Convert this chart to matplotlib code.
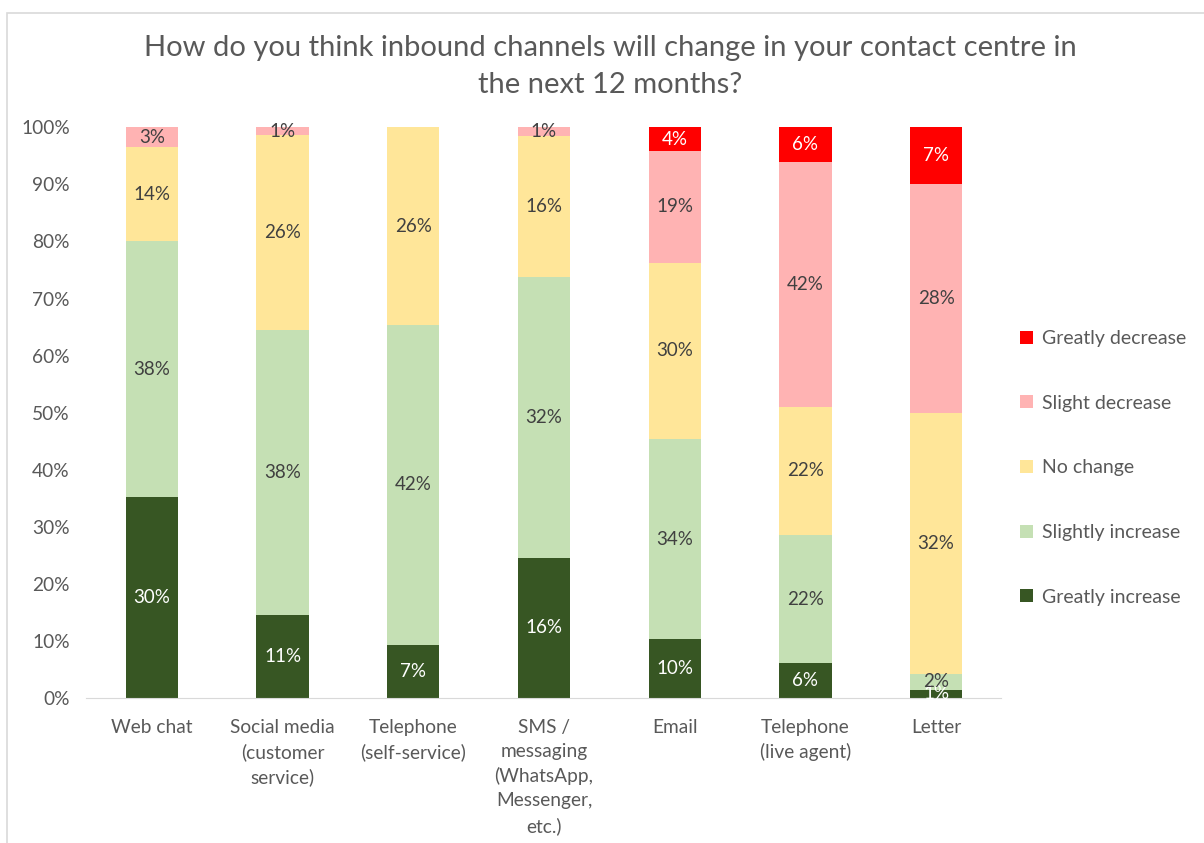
import numpy as np
import matplotlib.pyplot as plt
from matplotlib.patches import Rectangle

# Datos
canales = ['Web chat', 'Social media\n(customer\nservice)', 'Telephone\n(self-service)',
           'SMS /\nmessaging\n(WhatsApp,\nMessenger,\netc.)', 'Email',
           'Telephone\n(live agent)', 'Letter']
greatly_increase = [30, 11, 7, 16, 10, 6, 1]
slightly_increase = [38, 38, 42, 32, 34, 22, 2]
no_change = [14, 26, 26, 16, 30, 22, 32]
slight_decrease = [3, 1, 0, 1, 19, 42, 28]
greatly_decrease = [0, 0, 0, 0, 4, 6, 7]

series = ['Greatly increase', 'Slightly increase', 'No change', 'Slight decrease', 'Greatly decrease']
colores = ['#375623', '#C5E0B4', '#FFE699', '#FFB3B3', '#FF0000']
color_texto = ['white', '#404040', '#404040', '#404040', 'white']

plt.rcParams['font.family'] = ['Lato', 'DejaVu Sans']
gris = '#595959'

valores = np.array([greatly_increase, slightly_increase, no_change,
                    slight_decrease, greatly_decrease], dtype=float)
totales = valores.sum(axis=0)
porcentajes = valores / totales

fig = plt.figure(figsize=(12.04, 8.43), dpi=100)
ax = fig.add_axes([0.0718, 0.172, 0.760, 0.677])
fig.patches.append(Rectangle((7 / 1204, -0.1), 1.2, 1 - 13 / 843 + 0.1, transform=fig.transFigure,
                             fill=False, edgecolor='#D9D9D9', linewidth=1.2))

x = np.arange(len(canales))
base = np.zeros(len(canales))
barras = []
for i, nombre in enumerate(series):
    b = ax.bar(x, porcentajes[i], 0.4, bottom=base, color=colores[i], label=nombre)
    barras.append(b)
    for j in range(len(canales)):
        if valores[i, j] > 0:
            ax.text(x[j], base[j] + porcentajes[i, j] / 2, f'{valores[i, j]:.0f}%',
                    ha='center', va='center', fontsize=13.5, color=color_texto[i])
    base += porcentajes[i]

ax.set_xlim(-0.5, len(canales) - 0.5)
ax.set_ylim(0, 1)
ax.set_yticks(np.arange(0, 1.01, 0.1))
ax.set_yticklabels([f'{int(round(v * 100))}%' for v in np.arange(0, 1.01, 0.1)])
ax.set_xticks(x)
ax.set_xticklabels(canales, linespacing=1.5)
ax.tick_params(axis='both', length=0, labelsize=13.8, colors=gris)
ax.tick_params(axis='x', pad=15)
ax.tick_params(axis='y', pad=12)
for lado in ['top', 'right', 'left']:
    ax.spines[lado].set_visible(False)
ax.spines['bottom'].set_color('#D9D9D9')

fig.text(0.507, 0.959, 'How do you think inbound channels will change in your contact centre in\nthe next 12 months?',
         ha='center', va='top', fontsize=21, color=gris, linespacing=1.55)

fig.legend(barras[::-1], series[::-1], loc='center left', bbox_to_anchor=(0.833, 0.445),
           frameon=False, fontsize=14, labelcolor=gris, handlelength=0.65, handleheight=0.65,
           handletextpad=0.45, labelspacing=2.45)

fig.savefig('out.png', dpi=100)
